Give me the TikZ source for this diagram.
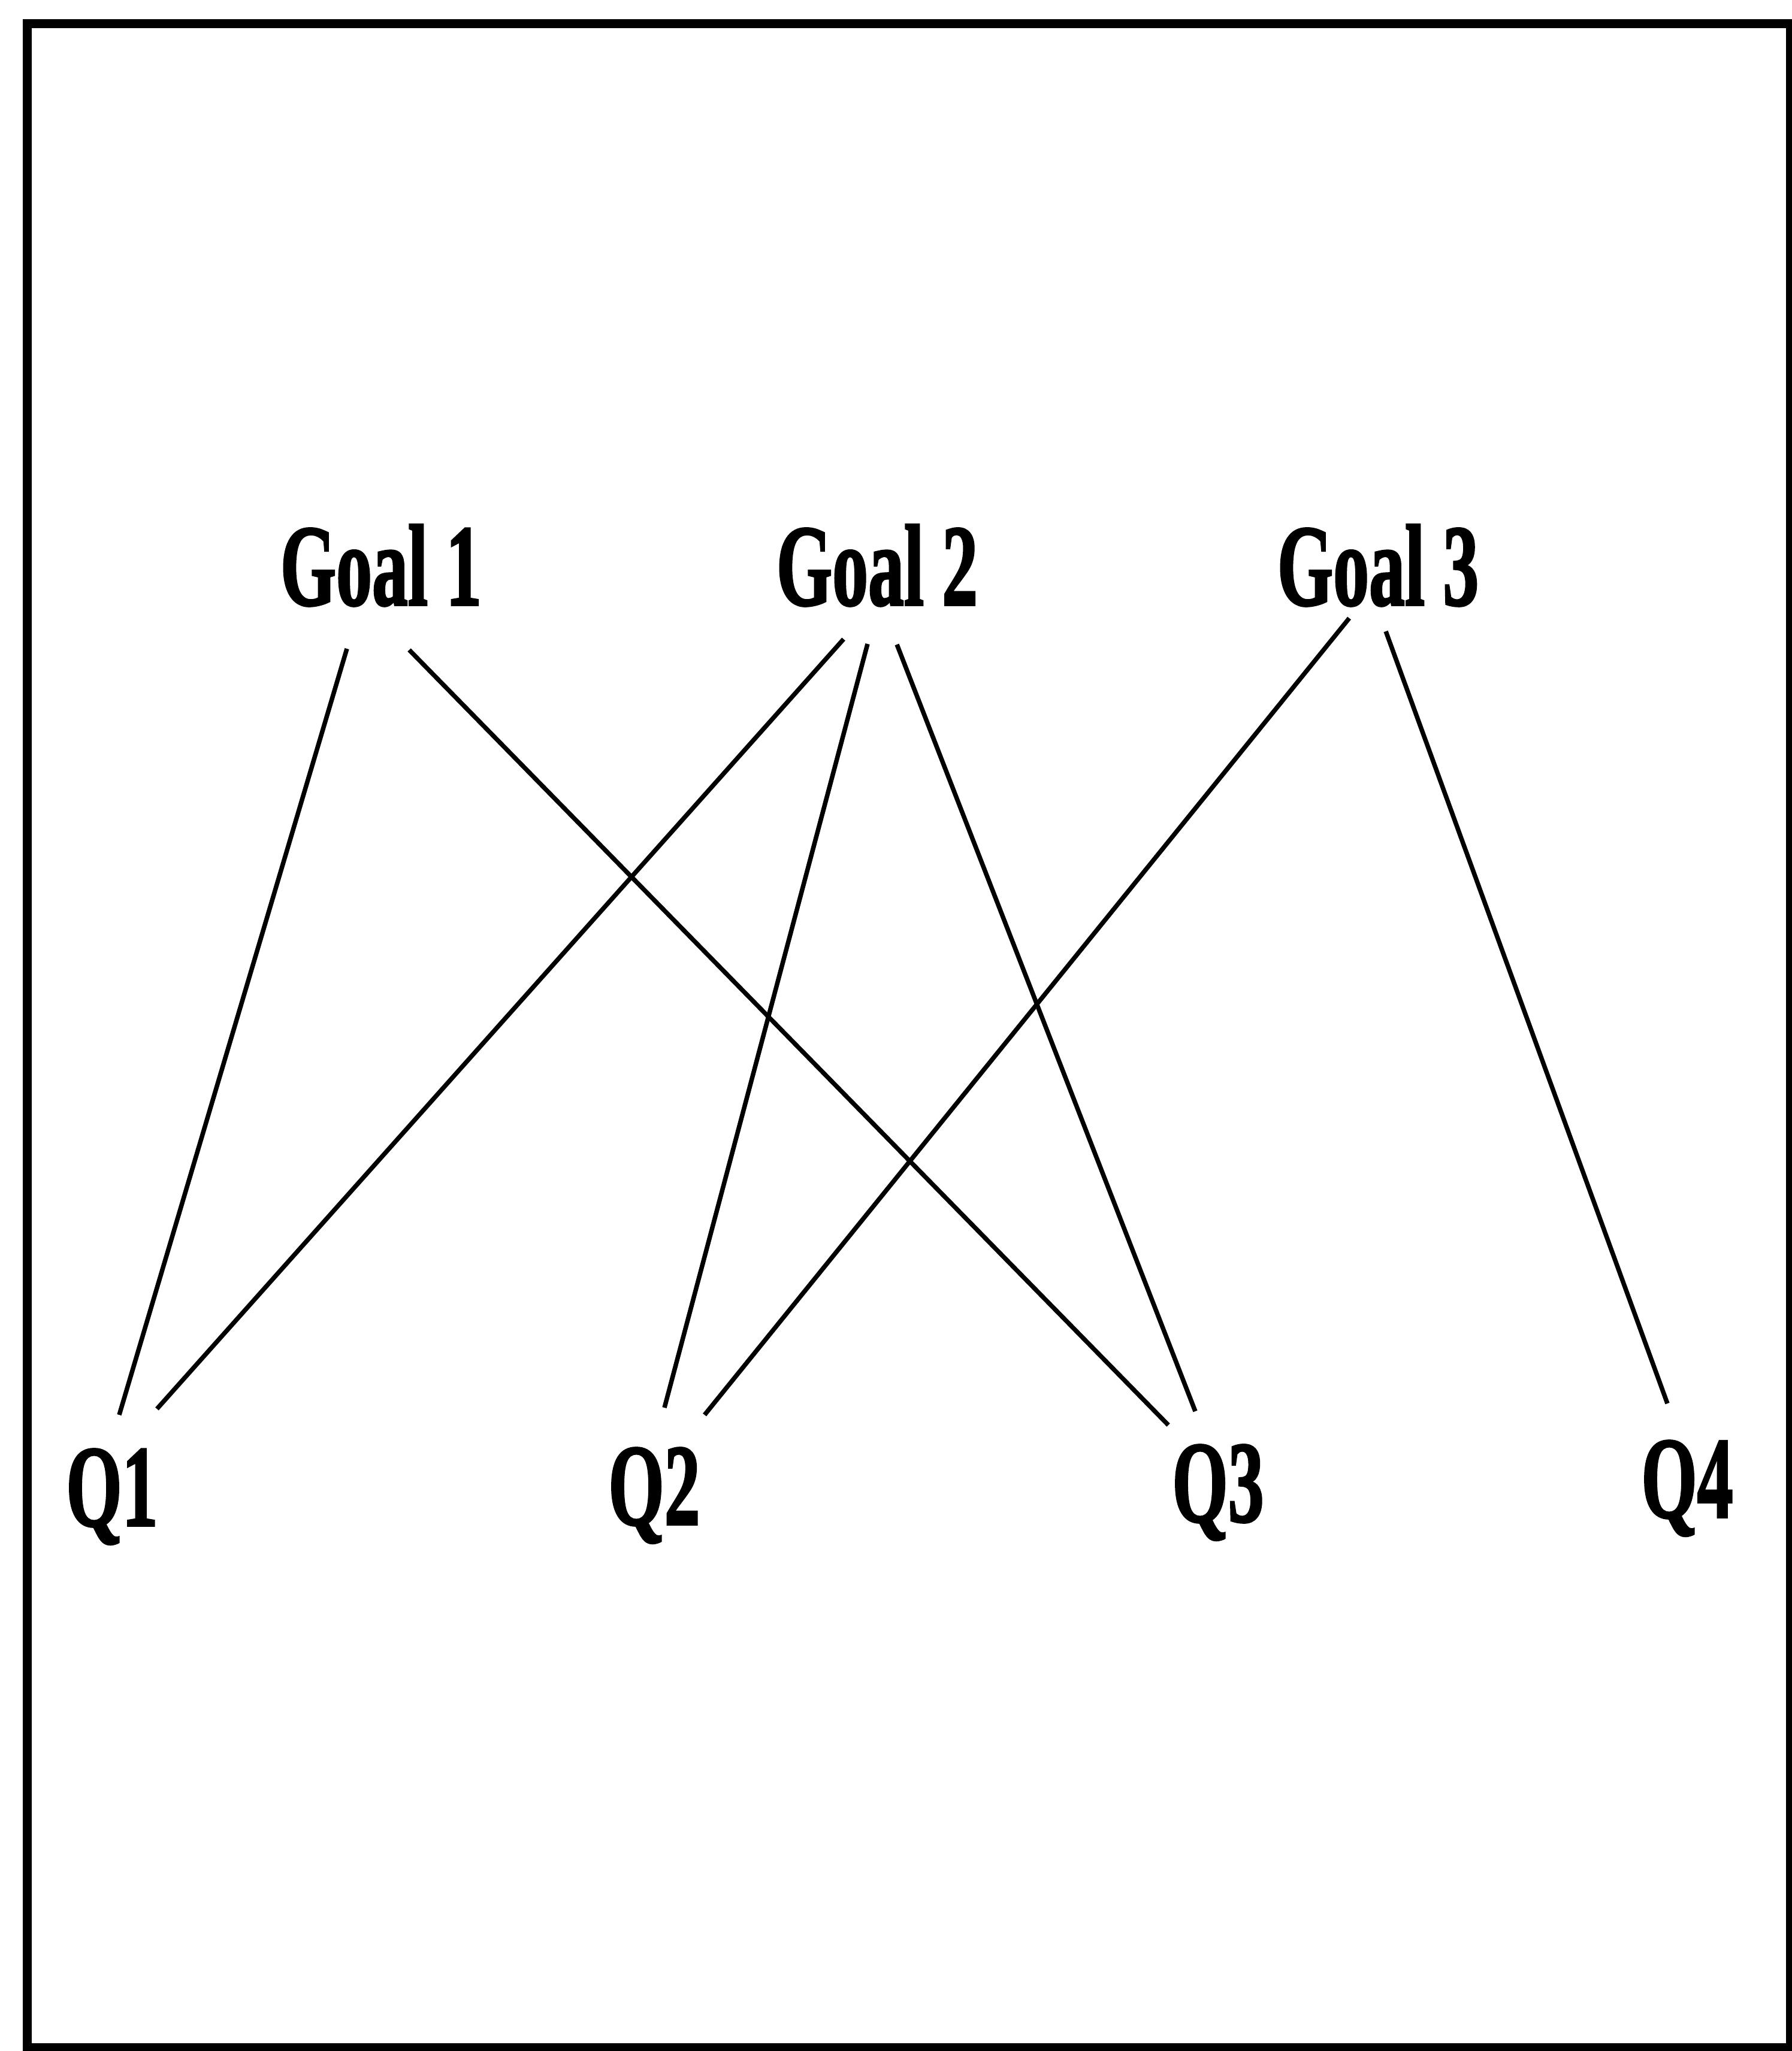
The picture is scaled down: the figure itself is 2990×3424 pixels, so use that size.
\documentclass[tikz,border=0pt]{standalone}
\usepackage{fontspec}
\setmainfont{Liberation Serif}
\newfontfamily\lblfont{Liberation Serif Bold}[FakeBold=2]
\usetikzlibrary{calc}

\begin{document}
\begin{tikzpicture}[x=0.1mm, y=-0.1mm,
  lbl/.style={font=\fontsize{55}{60}\lblfont, anchor=base, inner sep=0pt, xscale=0.62},
  link/.style={line width=0.75mm},
  frame/.style={line width=1.5mm}]

  \useasboundingbox (0,0) rectangle (2990,3424);
  \draw[frame] (45,40) rectangle (2988,3418);

  % ---- top row: goals ----
  \node[lbl] (g1) at (636,1010) {Goal 1};
  \node[lbl] (g2) at (1464,1010) {Goal 2};
  \node[lbl] (g3) at (2300,1010) {Goal 3};

  % ---- bottom row: questions ----
  \node[lbl] (q1) at (187,2547) {Q1};
  \node[lbl] (q2) at (1092,2545) {Q2};
  \node[lbl] (q3) at (2033,2540) {Q3};
  \node[lbl] (q4) at (2816,2533) {Q4};

  % ---- links goal -> question ----
  \draw[link] ($(g1.base)+(-57,73)$) -- ($(q1.base)+(12,-185)$);
  \draw[link] ($(g1.base)+(47,75)$) -- ($(q3.base)+(-83,-161)$);
  \draw[link] ($(g2.base)+(-56,57)$) -- ($(q1.base)+(75,-195)$);
  \draw[link] ($(g2.base)+(-16,65)$) -- ($(q2.base)+(17,-195)$);
  \draw[link] ($(g2.base)+(33,66)$) -- ($(q3.base)+(-38,-184)$);
  \draw[link] ($(g3.base)+(-48,22)$) -- ($(q2.base)+(84,-183)$);
  \draw[link] ($(g3.base)+(13,44)$) -- ($(q4.base)+(-33,-190)$);

\end{tikzpicture}
\end{document}
